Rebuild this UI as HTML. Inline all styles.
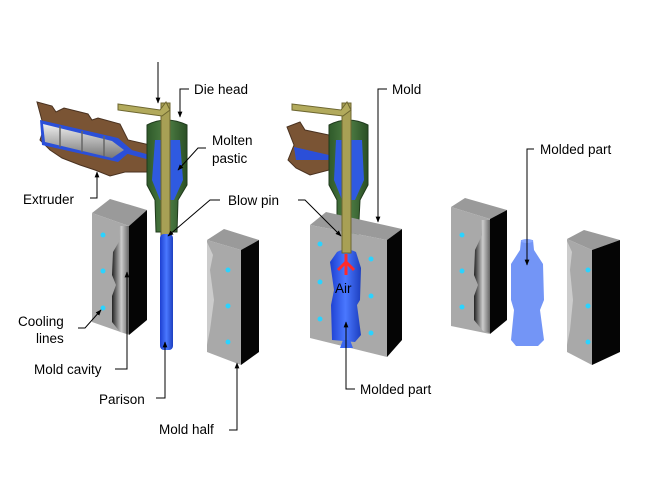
<!DOCTYPE html>
<html><head><meta charset="utf-8"><style>
html,body{margin:0;padding:0;background:#fff}
svg{display:block}
text{font-family:"Liberation Sans",Arial,sans-serif;font-size:13.5px;fill:#000}
</style></head><body>
<svg width="648" height="486" viewBox="0 0 648 486" xmlns="http://www.w3.org/2000/svg">
<defs>
<marker id="ar" viewBox="0 0 10 10" refX="9" refY="5" markerWidth="6" markerHeight="6" orient="auto"><path d="M0,1 L10,5 L0,9 z" fill="#000"/></marker>
<linearGradient id="cav" x1="0" x2="1"><stop offset="0" stop-color="#222"/><stop offset="0.55" stop-color="#ccc"/><stop offset="1" stop-color="#666"/></linearGradient>
<linearGradient id="grn" x1="0" x2="1"><stop offset="0" stop-color="#2f5a2a"/><stop offset="0.5" stop-color="#4f7f45"/><stop offset="1" stop-color="#2a4f25"/></linearGradient>
<linearGradient id="blu" x1="0" x2="1"><stop offset="0" stop-color="#1d3fd0"/><stop offset="0.5" stop-color="#4a78ff"/><stop offset="1" stop-color="#1d3fc0"/></linearGradient>
<linearGradient id="scr" x1="0" y1="0" x2="0" y2="1"><stop offset="0" stop-color="#eee"/><stop offset="1" stop-color="#777"/></linearGradient>
</defs>

<!-- LEFT GROUP extruder -->
<path d="M37,102 L52,106 L56,112 L64,108 L88,114 L92,120 L98,118 L120,124 L128,140 L150,145 L150,172 L125,172 L110,176 L95,170 L80,165 L62,158 L50,150 L40,140 L44,128 Z" fill="#7a5434" stroke="#4a3220" stroke-width="1"/>
<path d="M40,120 L118,138 L132,150 L118,162 L42,145 Z" fill="#2b4fd8"/>
<path d="M43,124 L112,141 L124,150 L112,158 L45,142 Z" fill="url(#scr)"/>
<path d="M60,126 L60,147 M82,131 L82,152 M104,136 L104,156" stroke="#666" stroke-width="1.5"/>
<path d="M124,148 L150,155 L150,160 L124,153 Z" fill="#2b4fd8"/>
<!-- die head -->
<path d="M147,125 Q166,115 187,125 L187,185 L178,200 L177,232 L156,232 L155,200 L147,185 Z" fill="url(#grn)" stroke="#1f3a1c"/>
<path d="M155,140 L180,140 L183,180 L174,200 L160,200 L152,180 Z" fill="#2f5ae0"/>
<rect x="161" y="103" width="9" height="134" fill="#a8a055" stroke="#6d6630"/>
<path d="M118,104 L160,110 L166,102 L170,110 L162,116 L118,110 Z" fill="#b2aa5c" stroke="#6d6630"/>
<rect x="160" y="234" width="13" height="116" rx="4" fill="url(#blu)"/>

<!-- left mold half -->
<path d="M92,213 L110,199 L147,210 L129,226 Z" fill="#9a9a9a"/>
<path d="M129,226 L147,210 L147,320 L129,335 Z" fill="#050505"/>
<path d="M92,213 L129,226 L129,335 L92,322 Z" fill="#a9a9a9"/>
<path d="M129,226 L119,226 L120,240 L113,252 L112,275 L116,285 L112,296 L112,322 L120,332 L129,334 Z" fill="url(#cav)"/>
<circle cx="103" cy="235" r="2.5" fill="#2bd3ff"/><circle cx="103" cy="271" r="2.5" fill="#2bd3ff"/><circle cx="103" cy="308" r="2.5" fill="#2bd3ff"/>

<!-- right mold half (left group) -->
<path d="M207,240 L224,229 L259,240 L241,250 Z" fill="#9a9a9a"/>
<path d="M241,250 L259,240 L259,352 L241,365 Z" fill="#050505"/>
<path d="M207,240 L241,250 L241,365 L207,352 Z" fill="#a9a9a9"/>
<path d="M207,242 L213,255 L210,270 L214,300 L210,330 L207,345 Z" fill="#ccc"/>
<circle cx="228" cy="270" r="2.5" fill="#2bd3ff"/><circle cx="228" cy="306" r="2.5" fill="#2bd3ff"/><circle cx="228" cy="342" r="2.5" fill="#2bd3ff"/>

<!-- CENTER GROUP -->
<path d="M287,127 L300,122 L305,130 L329,135 L329,170 L310,175 L296,168 L288,160 L294,145 Z" fill="#7a5434" stroke="#4a3220"/>
<path d="M294,147 L329,155 L329,160 L296,160 Z" fill="#2b4fd8"/>
<path d="M329,125 Q348,115 368,125 L368,185 L360,200 L358,240 L337,240 L337,200 L329,185 Z" fill="url(#grn)" stroke="#1f3a1c"/>
<path d="M336,140 L362,140 L364,180 L355,200 L342,200 L334,180 Z" fill="#2f5ae0"/>

<path d="M310,225 L326,212 L402,229 L387,240 Z" fill="#9a9a9a"/>
<path d="M387,240 L402,229 L402,340 L387,357 Z" fill="#050505"/>
<path d="M310,225 L387,240 L387,357 L310,338 Z" fill="#a9a9a9"/>
<path d="M337,252 Q346,247 356,252 L361,268 L360,300 L357,305 L361,335 L355,342 L332,340 L331,305 L334,290 L330,262 Z" fill="url(#blu)"/>
<path d="M343,340 L350,340 L353,348 L340,348 Z" fill="#3a66f0"/>
<rect x="342" y="103" width="9" height="150" fill="#a8a055" stroke="#6d6630"/>
<path d="M292,104 L341,110 L347,102 L351,110 L343,116 L292,110 Z" fill="#b2aa5c" stroke="#6d6630"/>
<path d="M346,254 L346,275 M346,262 L338,270 M346,262 L354,270" stroke="#ff2a2a" stroke-width="3" fill="none"/>
<text x="335" y="293" font-size="15">Air</text>
<circle cx="320" cy="244" r="2.5" fill="#2bd3ff"/><circle cx="320" cy="282" r="2.5" fill="#2bd3ff"/><circle cx="320" cy="319" r="2.5" fill="#2bd3ff"/>
<circle cx="371" cy="259" r="2.5" fill="#2bd3ff"/><circle cx="371" cy="296" r="2.5" fill="#2bd3ff"/><circle cx="371" cy="333" r="2.5" fill="#2bd3ff"/>

<!-- RIGHT GROUP -->
<path d="M451,207 L465,198 L507,210 L490,219 Z" fill="#9a9a9a"/>
<path d="M490,219 L507,210 L507,320 L490,334 Z" fill="#050505"/>
<path d="M451,207 L490,219 L490,334 L451,326 Z" fill="#a9a9a9"/>
<path d="M490,220 L481,220 L482,235 L475,250 L474,275 L478,285 L474,296 L474,320 L483,331 L490,333 Z" fill="url(#cav)"/>
<circle cx="462" cy="235" r="2.5" fill="#2bd3ff"/><circle cx="462" cy="271" r="2.5" fill="#2bd3ff"/><circle cx="462" cy="307" r="2.5" fill="#2bd3ff"/>

<path d="M521,240 L533,240 L534,250 L543,264 L544,300 L540,310 L544,340 L538,346 L516,346 L511,340 L514,310 L511,300 L511,264 L520,250 Z" fill="#5a82f5" opacity="0.85"/>
<ellipse cx="527" cy="241" rx="6" ry="2" fill="#8aa8ff"/>

<path d="M567,239 L584,230 L620,240 L592,250 Z" fill="#9a9a9a"/>
<path d="M592,250 L620,240 L620,352 L592,365 Z" fill="#050505"/>
<path d="M567,239 L592,250 L592,365 L567,352 Z" fill="#a9a9a9"/>
<path d="M567,241 L572,252 L570,270 L573,300 L570,330 L567,345 Z" fill="#ccc"/>
<circle cx="588" cy="270" r="2.5" fill="#2bd3ff"/><circle cx="588" cy="306" r="2.5" fill="#2bd3ff"/><circle cx="588" cy="342" r="2.5" fill="#2bd3ff"/>

<!-- leaders -->
<g stroke="#000" stroke-width="1" fill="none" marker-end="url(#ar)">
<path d="M158,62 L158,103"/>
<path d="M189,89 L180,89 L180,117"/>
<path d="M206,148 L198,148 L178,170"/>
<path d="M90,198 L97,198 L97,172"/>
<path d="M220,200 L210,200 L168,236"/>
<path d="M298,200 L305,200 L341,236"/>
<path d="M78,328 L85,328 L101,310"/>
<path d="M115,369 L127,369 L127,272"/>
<path d="M156,398 L165,398 L165,342"/>
<path d="M229,430 L237,430 L237,363"/>
<path d="M387,89 L378,89 L378,222"/>
<path d="M355,389 L346,389 L346,322"/>
<path d="M534,149 L527,149 L527,265"/>
</g>
<text x="194" y="94">Die head</text>
<text x="212" y="145">Molten</text>
<text x="212" y="163">pastic</text>
<text x="23" y="204">Extruder</text>
<text x="228" y="205">Blow pin</text>
<text x="18" y="326">Cooling</text>
<text x="36" y="343">lines</text>
<text x="34" y="374">Mold cavity</text>
<text x="99" y="404">Parison</text>
<text x="159" y="434">Mold half</text>
<text x="392" y="94">Mold</text>
<text x="360" y="394">Molded part</text>
<text x="540" y="154">Molded part</text>
</svg>
</body></html>
